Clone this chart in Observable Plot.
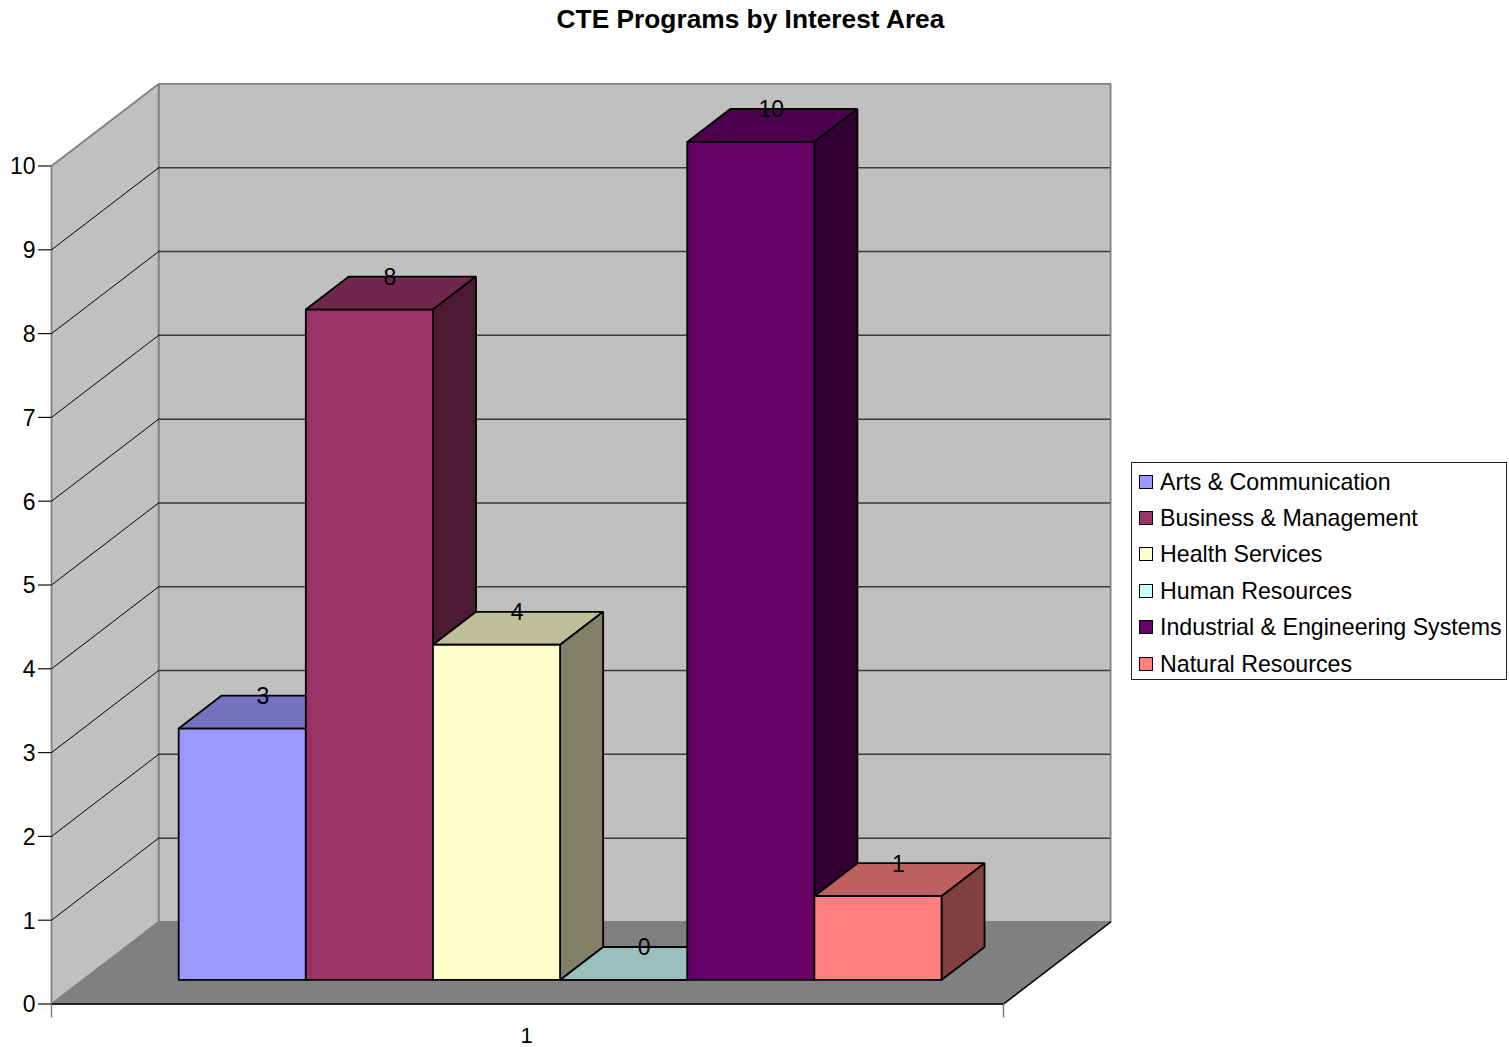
<!DOCTYPE html>
<html>
<head>
<meta charset="utf-8">
<script src="https://cdn.jsdelivr.net/npm/d3@7"></script>
<script src="https://cdn.jsdelivr.net/npm/@observablehq/plot@0.6"></script>
<style>
  html, body { margin: 0; padding: 0; background: #fff; }
  #page { position: relative; width: 1509px; height: 1047px; font-family: "Liberation Sans", Arial, sans-serif; overflow: hidden; }
  #title { position: absolute; left: 0; width: 1501px; top: 4px; text-align: center; font-size: 26.3px; line-height: 30px; font-weight: bold; color: #000; }
  #legend { position: absolute; left: 1131px; top: 462px; width: 374px; height: 216px; border: 1px solid #222; background: #fff; box-sizing: content-box; }
  .row { position: absolute; left: 7px; height: 30px; line-height: 30px; font-size: 23.2px; color: #000; white-space: nowrap; }
  .swatch { position: absolute; left: 0; top: 8px; width: 12px; height: 12px; border: 1.5px solid #000; }
  .name { position: absolute; left: 21px; top: 0; }
  svg { display: block; }
</style>
</head>
<body>
<div id="page">
  <div id="title"></div>
  <div id="chart"></div>
  <div id="legend"></div>
</div>
<script>
const chartTitle = "CTE Programs by Interest Area";
const interestAreas = ["Arts & Communication", "Business & Management", "Health Services", "Human Resources", "Industrial & Engineering Systems", "Natural Resources"];
const programCounts = [3, 8, 4, 0, 10, 1];
const barColors = ["#9999FF", "#993366", "#FFFFCC", "#CCFFFF", "#660066", "#FF8080"];
const valueTicks = [0, 1, 2, 3, 4, 5, 6, 7, 8, 9, 10];
const categoryLabel = "1";

// Oblique projection: x is measured in bar widths, y in program counts.
const floorWidth = 7.488;
const depthX = 0.8425;      // x shift across the full floor depth
const depthY = 0.979;       // y shift across the full floor depth
const barGap = 0.7535;      // space between the floor's left edge and the first bar
const barDepthFront = 0.293;
const barDepthBack = 0.695;

const px = (u, d) => u + d * depthX;
const py = (v, d) => v + d * depthY;
const shade = (color, k) => {
  const c = d3.rgb(color);
  return d3.rgb(c.r * k, c.g * k, c.b * k).formatHex();
};

// Flatten a polygon into closed-path rows for a line mark.
function face(id, fill, points) {
  return [...points, points[0]].map(([u, v, d]) => ({face: id, fill, x: px(u, d), y: py(v, d)}));
}

const maxValue = valueTicks[valueTicks.length - 1];
const walls = [
  ...face("floor", "#808080", [[0, 0, 0], [floorWidth, 0, 0], [floorWidth, 0, 1], [0, 0, 1]]),
  ...face("back", "#C0C0C0", [[0, 0, 1], [floorWidth, 0, 1], [floorWidth, maxValue, 1], [0, maxValue, 1]]),
  ...face("side", "#C0C0C0", [[0, 0, 0], [0, 0, 1], [0, maxValue, 1], [0, maxValue, 0]])
];

const barFaces = programCounts.flatMap((value, i) => {
  const u0 = barGap + i, u1 = u0 + 1, d0 = barDepthFront, d1 = barDepthBack;
  const color = barColors[i];
  return [
    ...face(`top${i}`, shade(color, 0.75), [[u0, value, d0], [u1, value, d0], [u1, value, d1], [u0, value, d1]]),
    ...face(`right${i}`, shade(color, 0.5), [[u1, 0, d0], [u1, 0, d1], [u1, value, d1], [u1, value, d0]]),
    ...face(`front${i}`, color, [[u0, 0, d0], [u1, 0, d0], [u1, value, d0], [u0, value, d0]])
  ];
});

const valueLabels = programCounts.map((value, i) => ({
  x: px(barGap + i + 0.5, (barDepthFront + barDepthBack) / 2),
  y: py(value, barDepthBack),
  text: String(value)
}));

const innerTicks = valueTicks.filter(t => t > 0 && t < maxValue);
const backGrid = innerTicks.map(t => ({t, x1: px(0, 1), x2: px(floorWidth, 1), y: py(t, 1)}));
const sideGrid = innerTicks.flatMap(t => [
  {t, x: px(0, 0), y: py(t, 0)},
  {t, x: px(0, 1), y: py(t, 1)}
]);
const floorEdge = [
  {x: px(0, 0), y: 0},
  {x: px(floorWidth, 0), y: 0},
  {x: px(floorWidth, 1), y: py(0, 1)}
];

const chart = Plot.plot({
  width: 1509,
  height: 1047,
  marginLeft: 51,
  marginRight: 506,
  marginTop: 165.5,
  marginBottom: 43.5,
  style: {background: "#fff", fontFamily: "'Liberation Sans', Arial, sans-serif"},
  x: {domain: [0, floorWidth], axis: null},
  y: {domain: [0, maxValue], axis: null},
  marks: [
    Plot.line(walls, {x: "x", y: "y", z: "face", fill: "fill", stroke: "#808080", strokeWidth: 1.8, strokeLinejoin: "miter"}),
    Plot.ruleY(backGrid, {y: "y", x1: "x1", x2: "x2", stroke: "#3a3a3a", strokeWidth: 1.5}),
    Plot.line(sideGrid, {x: "x", y: "y", z: "t", stroke: "#000", strokeWidth: 1}),
    Plot.line(floorEdge, {x: "x", y: "y", stroke: "#000", strokeWidth: 1.3}),
    // Tick marks and tick labels are separate so the labels can sit a pixel lower.
    Plot.axisY({ticks: valueTicks, tickSize: 13, tickFormat: () => "", label: null, stroke: "#111", strokeWidth: 1.2, marginLeft: 51}),
    Plot.axisY({ticks: valueTicks, tickSize: 0, tickPadding: 16, fontSize: 23, label: null, fill: "#000", dy: 1, marginLeft: 51}),
    Plot.axisX({ticks: [0, floorWidth], tickSize: 14, tickFormat: () => "", label: null, stroke: "#777", strokeWidth: 1.4}),
    Plot.line(barFaces, {x: "x", y: "y", z: "face", fill: "fill", stroke: "#000", strokeWidth: 1.8, strokeLinejoin: "miter"}),
    Plot.text(valueLabels, {x: "x", y: "y", text: "text", fontSize: 23, fill: "#000", lineAnchor: "middle", dx: -1, dy: 1}),
    Plot.text([categoryLabel], {x: [floorWidth / 2], y: [0], text: d => d, fontSize: 22, fill: "#000", dy: 32, dx: -1, lineAnchor: "middle"})
  ]
});
document.getElementById("chart").append(chart);
document.getElementById("title").textContent = chartTitle;

// Legend box: one swatch and name per interest area.
const rowTops = [3.5, 39.9, 76.3, 112.7, 149.1, 185.5];
const legend = d3.select("#legend");
interestAreas.forEach((name, i) => {
  const row = legend.append("div").attr("class", "row").style("top", `${rowTops[i]}px`);
  row.append("span").attr("class", "swatch").style("background", barColors[i]);
  row.append("span").attr("class", "name").text(name);
});
</script>
</body>
</html>
